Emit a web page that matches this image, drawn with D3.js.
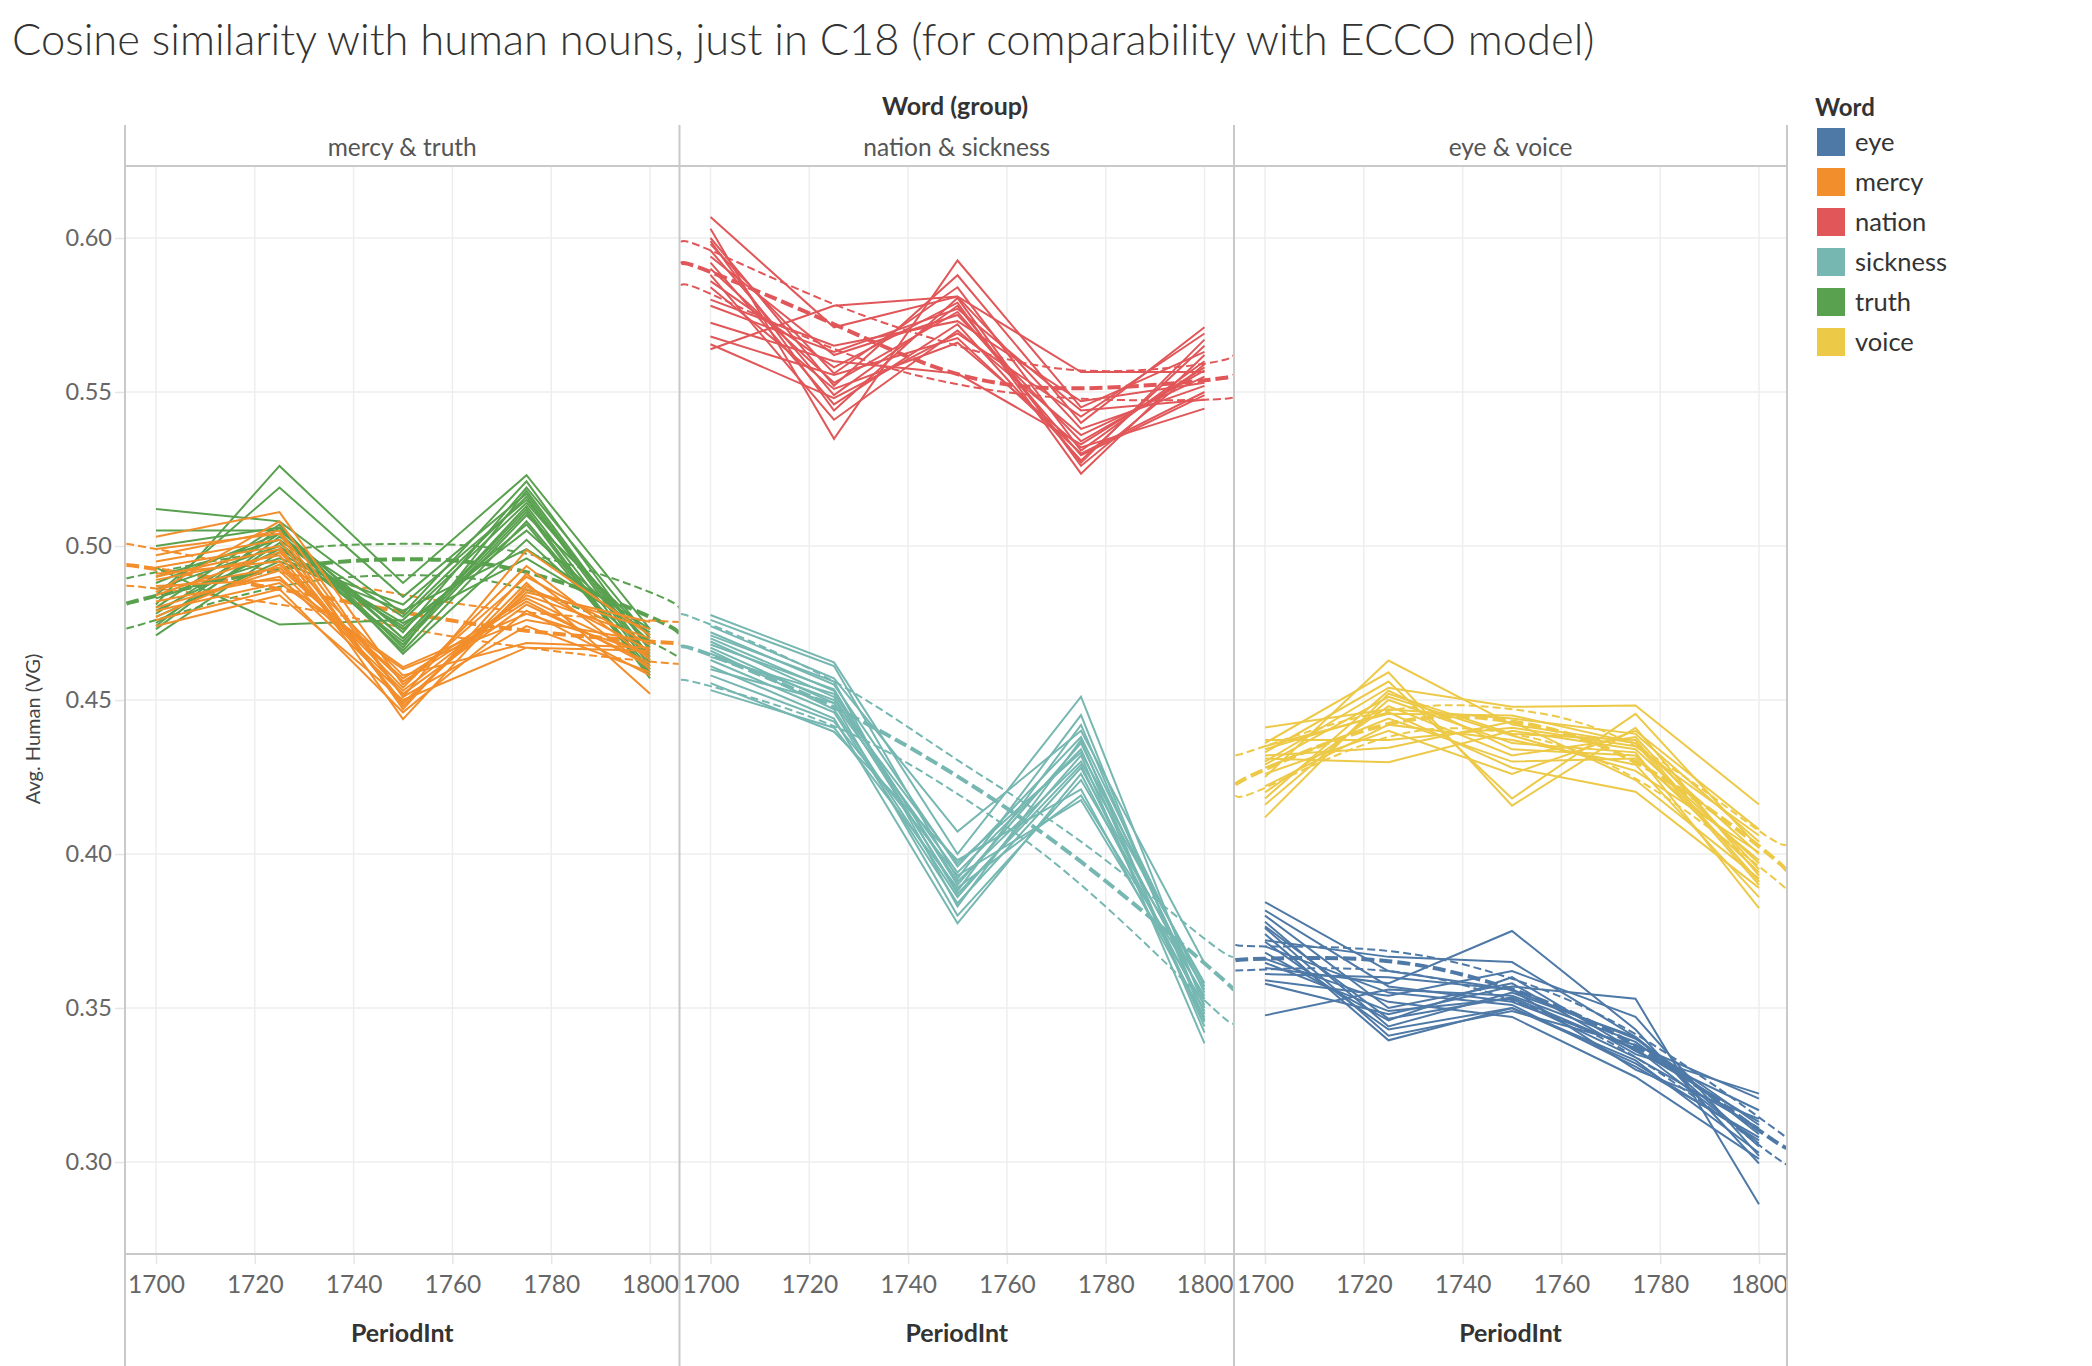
<!DOCTYPE html>
<html><head><meta charset="utf-8">
<script src="https://cdn.jsdelivr.net/npm/d3@7"></script>
<style>
body{margin:0;background:#fff;}
text{font-family:Lato,"Open Sans",sans-serif;}
</style>
</head><body>
<svg id="chart" width="2092" height="1366"></svg>
<script>
// ---------- DATA ----------
const years = [1700, 1725, 1750, 1775, 1800];
const trendYears = [1694, 1700, 1725, 1750, 1775, 1800, 1806];
const xTicks = [1700, 1720, 1740, 1760, 1780, 1800];
const yTicks = [0.30, 0.35, 0.40, 0.45, 0.50, 0.55, 0.60];
const words = ["eye", "mercy", "nation", "sickness", "truth", "voice"];
const wordColors = ["#4e79a7", "#f28e2b", "#e15759", "#76b7b2", "#59a14f", "#edc948"];
const panelNames = ["mercy & truth", "nation & sickness", "eye & voice"];
const panelWords = [["truth", "mercy"], ["nation", "sickness"], ["eye", "voice"]];

const truth = [
 [0.512,0.508,0.478,0.521,0.466],[0.505,0.505,0.472,0.519,0.470],[0.481,0.526,0.488,0.523,0.473],
 [0.484,0.519,0.4835,0.517,0.463],[0.493,0.4745,0.476,0.514,0.468],[0.500,0.506,0.470,0.512,0.458],
 [0.478,0.504,0.466,0.508,0.460],[0.475,0.501,0.468,0.510,0.471],[0.471,0.498,0.474,0.505,0.469],
 [0.473,0.503,0.477,0.516,0.462],[0.486,0.500,0.469,0.511,0.457],[0.480,0.507,0.465,0.502,0.465],
 [0.477,0.495,0.479,0.499,0.473],[0.490,0.502,0.473,0.507,0.459],[0.483,0.496,0.481,0.515,0.467],
 [0.474,0.506,0.467,0.518,0.464],[0.479,0.499,0.475,0.496,0.472],[0.488,0.504,0.470,0.513,0.461]
];
const mercy = [
 [0.503,0.511,0.455,0.490,0.468],[0.497,0.505,0.451,0.4987,0.471],[0.493,0.500,0.4438,0.487,0.466],
 [0.489,0.497,0.449,0.485,0.4753],[0.486,0.493,0.457,0.483,0.464],[0.482,0.490,0.452,0.481,0.462],
 [0.479,0.488,0.460,0.476,0.469],[0.476,0.486,0.446,0.479,0.458],[0.474,0.484,0.450,0.467,0.466],
 [0.491,0.495,0.454,0.4935,0.463],[0.495,0.502,0.448,0.488,0.452],[0.484,0.498,0.458,0.4685,0.467],
 [0.480,0.492,0.453,0.484,0.470],[0.499,0.504,0.447,0.491,0.460],[0.487,0.489,0.4607,0.478,0.465],
 [0.477,0.494,0.456,0.482,0.461],[0.490,0.499,0.449,0.486,0.473],[0.485,0.508,0.451,0.474,0.459]
];
const nation = [
 [0.6068,0.571,0.581,0.538,0.552],[0.603,0.5348,0.5927,0.545,0.563],[0.600,0.552,0.5879,0.540,0.571],
 [0.5639,0.578,0.581,0.5565,0.5565],[0.598,0.556,0.584,0.531,0.560],[0.596,0.549,0.578,0.527,0.567],
 [0.594,0.562,0.575,0.534,0.557],[0.592,0.546,0.572,0.5278,0.565],[0.590,0.553,0.576,0.5295,0.549],
 [0.588,0.541,0.570,0.536,0.555],[0.586,0.558,0.579,0.5235,0.562],[0.584,0.551,0.566,0.532,0.5446],
 [0.580,0.565,0.573,0.547,0.553],[0.5725,0.560,0.556,0.533,0.558],[0.568,0.5555,0.5675,0.530,0.550],
 [0.5655,0.548,0.569,0.542,0.569],[0.578,0.563,0.577,0.544,0.5475],[0.599,0.544,0.5805,0.526,0.559]
];
const sickness = [
 [0.4776,0.4622,0.400,0.4511,0.350],[0.476,0.461,0.392,0.4451,0.346],[0.474,0.457,0.4073,0.440,0.3645],
 [0.472,0.455,0.396,0.438,0.355],[0.470,0.453,0.390,0.436,0.352],[0.469,0.451,0.388,0.4419,0.348],
 [0.467,0.449,0.394,0.434,0.344],[0.466,0.447,0.386,0.432,0.3385],[0.464,0.452,0.391,0.430,0.358],
 [0.463,0.446,0.384,0.428,0.353],[0.461,0.444,0.3775,0.426,0.349],[0.460,0.449,0.380,0.424,0.356],
 [0.458,0.443,0.393,0.4175,0.351],[0.4555,0.4397,0.398,0.421,0.347],[0.4532,0.441,0.389,0.419,0.354],
 [0.471,0.456,0.383,0.437,0.342],[0.465,0.450,0.397,0.433,0.357],[0.468,0.4535,0.387,0.429,0.3455]
];
const voice = [
 [0.425,0.4628,0.442,0.436,0.400],[0.4411,0.447,0.444,0.439,0.404],[0.431,0.4298,0.440,0.434,0.397],
 [0.436,0.459,0.4157,0.441,0.393],[0.433,0.456,0.418,0.4455,0.402],[0.430,0.454,0.4478,0.4482,0.4161],
 [0.4119,0.452,0.439,0.437,0.391],[0.416,0.450,0.436,0.433,0.3824],[0.420,0.448,0.432,0.438,0.395],
 [0.434,0.446,0.428,0.4202,0.389],[0.428,0.444,0.430,0.431,0.398],[0.422,0.442,0.437,0.429,0.386],
 [0.437,0.437,0.441,0.435,0.406],[0.426,0.440,0.426,0.440,0.408],[0.432,0.4345,0.443,0.424,0.392],
 [0.418,0.453,0.434,0.432,0.394],[0.429,0.451,0.4385,0.427,0.4005],[0.435,0.4455,0.445,0.436,0.390]
];
const eye = [
 [0.3844,0.362,0.356,0.340,0.312],[0.3817,0.357,0.352,0.337,0.306],[0.380,0.350,0.358,0.335,0.3222],
 [0.378,0.344,0.355,0.3406,0.309],[0.376,0.341,0.349,0.338,0.3206],[0.374,0.3395,0.350,0.333,0.303],
 [0.372,0.3666,0.3649,0.3406,0.305],[0.370,0.355,0.351,0.331,0.308],[0.368,0.346,0.360,0.336,0.3168],
 [0.366,0.352,0.3471,0.3276,0.301],[0.3647,0.349,0.353,0.334,0.311],[0.363,0.358,0.375,0.343,0.2995],
 [0.361,0.360,0.356,0.330,0.314],[0.359,0.354,0.362,0.3471,0.302],[0.3579,0.348,0.357,0.353,0.2863],
 [0.3476,0.356,0.354,0.339,0.310],[0.3715,0.343,0.350,0.332,0.307],[0.3765,0.3465,0.3535,0.3365,0.313]
];

// trend lines (values at trendYears): upper band, centre, lower band
const truthTrendUpper  = [0.4895,0.4915,0.4985,0.5007,0.4975,0.4850,0.4797];
const truthTrend       = [0.4813,0.4838,0.4925,0.4957,0.4915,0.4770,0.4715];
const truthTrendLower  = [0.4732,0.4760,0.4868,0.4905,0.4858,0.4690,0.4634];
const mercyTrendUpper  = [0.5007,0.4990,0.4915,0.4842,0.4785,0.4758,0.4753];
const mercyTrend       = [0.4938,0.4925,0.4860,0.4785,0.4725,0.4690,0.4685];
const mercyTrendLower  = [0.4871,0.4862,0.4810,0.4735,0.4670,0.4625,0.4617];
const nationTrendUpper = [0.5987,0.5960,0.5785,0.5650,0.5570,0.5592,0.5622];
const nationTrend      = [0.5917,0.5890,0.5720,0.5558,0.5512,0.5538,0.5554];
const nationTrendLower = [0.5846,0.5819,0.5640,0.5525,0.5478,0.5475,0.5484];
const sicknessTrendUpper = [0.4779,0.4745,0.4560,0.4305,0.4040,0.3725,0.3669];
const sicknessTrend      = [0.4673,0.4646,0.4476,0.4252,0.3975,0.3645,0.3558];
const sicknessTrendLower = [0.4565,0.4545,0.4415,0.4195,0.3900,0.3525,0.3450];
const voiceTrendUpper  = [0.4321,0.4350,0.4465,0.4470,0.4350,0.4075,0.4040];
const voiceTrend       = [0.4225,0.4275,0.4422,0.4430,0.4298,0.4025,0.3935];
const voiceTrendLower  = [0.4191,0.4215,0.4380,0.4390,0.4245,0.3960,0.3878];
const eyeTrendUpper    = [0.3706,0.3700,0.3685,0.3595,0.3415,0.3145,0.3073];
const eyeTrend         = [0.3655,0.3660,0.3652,0.3560,0.3377,0.3103,0.3045];
const eyeTrendLower    = [0.3622,0.3625,0.3620,0.3525,0.3340,0.3055,0.2989];

const seriesByWord = {truth, mercy, nation, sickness, voice, eye};
const trendsByWord = {
  truth:[truthTrendUpper,truthTrend,truthTrendLower],
  mercy:[mercyTrendUpper,mercyTrend,mercyTrendLower],
  nation:[nationTrendUpper,nationTrend,nationTrendLower],
  sickness:[sicknessTrendUpper,sicknessTrend,sicknessTrendLower],
  voice:[voiceTrendUpper,voiceTrend,voiceTrendLower],
  eye:[eyeTrendUpper,eyeTrend,eyeTrendLower]
};

// ---------- LAYOUT ----------
const svg = d3.select("#chart");
const color = d3.scaleOrdinal().domain(words).range(wordColors);
const panelX = [125, 679.5, 1234, 1787];
const frameTop = 125, headerBottom = 166, plotBottom = 1254;
const y = d3.scaleLinear().domain([0.30, 0.60]).range([1162, 238]);
const border = "#c9c9c9", grid = "#eeeeee";

// Title
const title = svg.append("text").attr("x", 12).attr("y", 55)
  .attr("font-size", 37).attr("fill", "#333").attr("font-weight", 300)
  .text("Cosine similarity with human nouns, just in C18 (for comparability with ECCO model)");
const tw = title.node().getComputedTextLength();
title.attr("font-size", 37 * 1583 / tw);

svg.append("text").attr("x", 955).attr("y", 115).attr("text-anchor", "middle")
  .attr("font-size", 25).attr("font-weight", 700).attr("fill", "#333").text("Word (group)");

// Y axis
const yAxisG = svg.append("g").attr("transform", `translate(${panelX[0]},0)`)
  .call(d3.axisLeft(y).tickValues(yTicks).tickFormat(d3.format(".2f")).tickSize(10).tickPadding(3));
yAxisG.select(".domain").remove();
yAxisG.selectAll(".tick line").attr("stroke", "#e6e6e6").attr("stroke-width", 1.5);
yAxisG.selectAll(".tick text").attr("font-size", 23.5).attr("fill", "#666").attr("font-family", "Lato");

svg.append("text").attr("transform", "translate(40,729) rotate(-90)")
  .attr("text-anchor", "middle").attr("font-size", 20).attr("fill", "#444")
  .text("Avg. Human (VG)");

const trendLine = d3.line().curve(d3.curveNatural);
const dataLine = d3.line();

panelNames.forEach((name, i) => {
  const x0 = panelX[i], x1 = panelX[i + 1];
  const x = d3.scaleLinear().domain([1700, 1800]).range([x0 + 31, x0 + 525]);
  const g = svg.append("g");

  g.selectAll(".hg").data(yTicks).join("line")
    .attr("x1", x0).attr("x2", x1).attr("y1", d => y(d)).attr("y2", d => y(d))
    .attr("stroke", grid).attr("stroke-width", 1.5);
  g.selectAll(".vg").data(xTicks).join("line")
    .attr("x1", d => x(d)).attr("x2", d => x(d)).attr("y1", headerBottom).attr("y2", plotBottom)
    .attr("stroke", grid).attr("stroke-width", 1.5);

  const xa = svg.append("g").attr("transform", `translate(0,${plotBottom})`)
    .call(d3.axisBottom(x).tickValues(xTicks).tickFormat(d3.format("d")).tickSize(10).tickPadding(12));
  xa.select(".domain").remove();
  xa.selectAll(".tick line").attr("stroke", "#e6e6e6").attr("stroke-width", 1.5);
  xa.selectAll(".tick text").attr("font-size", 24.5).attr("fill", "#666").attr("font-family", "Lato");

  svg.append("text").attr("x", (x0 + x1) / 2).attr("y", 1342).attr("text-anchor", "middle")
    .attr("font-size", 25).attr("font-weight", 700).attr("fill", "#333").text("PeriodInt");

  svg.append("text").attr("x", (x0 + x1) / 2).attr("y", 156).attr("text-anchor", "middle")
    .attr("font-size", 24.5).attr("fill", "#555").text(name);

  const cid = "clip" + i;
  svg.append("clipPath").attr("id", cid).append("rect")
    .attr("x", x0).attr("y", headerBottom).attr("width", x1 - x0).attr("height", plotBottom - headerBottom);
  const pg = svg.append("g").attr("clip-path", `url(#${cid})`);

  panelWords[i].forEach(w => {
    const c = color(w);
    trendsByWord[w].forEach((vals, k) => {
      pg.append("path")
        .attr("d", trendLine(trendYears.map((yr, j) => [x(yr), y(vals[j])])))
        .attr("fill", "none").attr("stroke", c)
        .attr("stroke-width", k === 1 ? 4 : 2)
        .attr("stroke-dasharray", k === 1 ? "13,5" : "8,4");
    });
  });
  panelWords[i].forEach(w => {
    const c = color(w);
    pg.selectAll(null).data(seriesByWord[w]).join("path")
      .attr("d", row => dataLine(row.map((v, j) => [x(years[j]), y(v)])))
      .attr("fill", "none").attr("stroke", c).attr("stroke-width", 2);
  });
});

panelX.forEach(px => {
  svg.append("line").attr("x1", px).attr("x2", px).attr("y1", frameTop).attr("y2", 1366)
    .attr("stroke", border).attr("stroke-width", 2);
});
svg.append("line").attr("x1", panelX[0]).attr("x2", panelX[3]).attr("y1", headerBottom).attr("y2", headerBottom)
  .attr("stroke", border).attr("stroke-width", 2);
svg.append("line").attr("x1", panelX[0]).attr("x2", panelX[3]).attr("y1", plotBottom).attr("y2", plotBottom)
  .attr("stroke", border).attr("stroke-width", 2);

svg.append("text").attr("x", 1815).attr("y", 116).attr("font-size", 24)
  .attr("font-weight", 700).attr("fill", "#333").text("Word");
const lg = svg.selectAll(".lg").data(words).join("g")
  .attr("transform", (d, i) => `translate(1817,${128 + i * 40})`);
lg.append("rect").attr("width", 28).attr("height", 28).attr("fill", d => color(d));
lg.append("text").attr("x", 38).attr("y", 14).attr("dy", "0.35em")
  .attr("font-size", 25.5).attr("fill", "#333").text(d => d);
</script>
</body></html>
